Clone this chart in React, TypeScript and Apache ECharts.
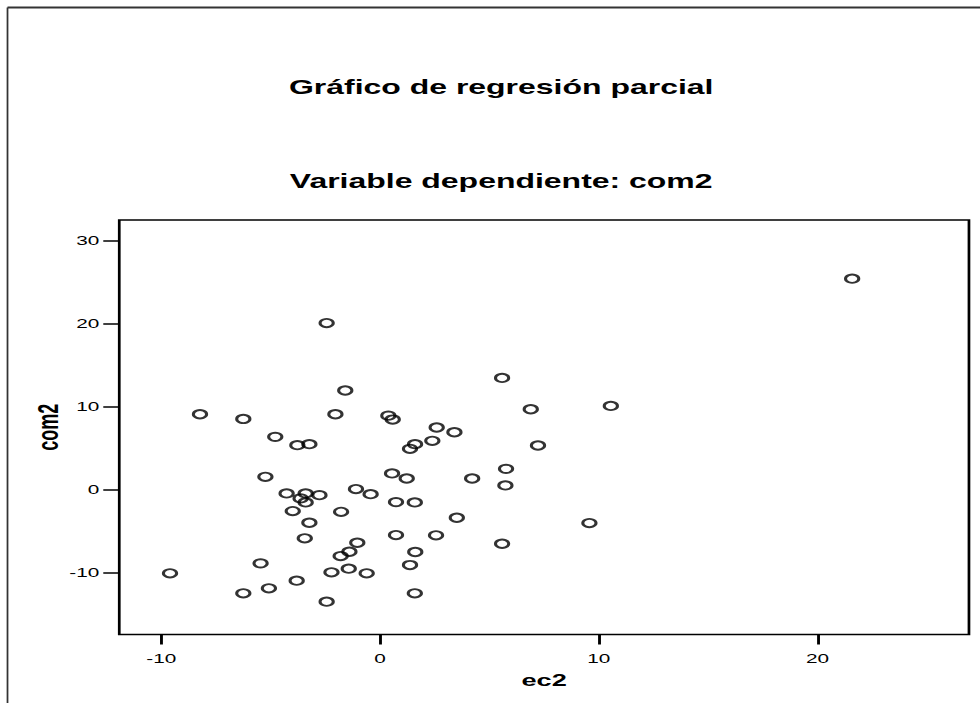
import React, { useEffect, useRef } from "react";
import * as echarts from "echarts";

// Partial regression plot data
const ec2 = [
  -8.23, -6.25, -4.79, -3.78, -3.23, -2.44, -1.59, -2.04, 0.38, 0.58,
  1.37, 1.6, 2.39, 2.59, 3.4, -5.24, 0.55, 1.22, 4.21, -4.27,
  -3.4, -3.63, -3.4, -2.77, -1.1, -0.43, 0.73, 1.59, -3.99, -1.78,
  -3.23, 3.51, -3.44, 0.73, 2.56, -1.04, -1.4, -1.8, 1.61, -5.46,
  1.37, -9.6, -2.22, -1.43, -0.61, -3.81, -5.08, -6.25, 1.59, -2.44,
  21.58, 5.58, 6.89, 10.55, 7.22, 5.76, 5.73, 9.57, 5.58,
];
const com2 = [
  9.07, 8.5, 6.34, 5.34, 5.46, 20.07, 11.93, 9.07, 8.9, 8.43,
  4.9, 5.46, 5.86, 7.47, 6.9, 1.52, 1.93, 1.32, 1.32, -0.48,
  -0.48, -1.08, -1.57, -0.69, 0.04, -0.57, -1.53, -1.57, -2.61, -2.7,
  -4.02, -3.42, -5.9, -5.51, -5.54, -6.43, -7.52, -8.04, -7.55, -8.92,
  -9.12, -10.12, -10.0, -9.56, -10.12, -11.01, -11.93, -12.53, -12.53, -13.54,
  25.42, 13.45, 9.67, 10.07, 5.3, 2.48, 0.48, -4.06, -6.55,
];
const xTicks = [-10, 0, 10, 20];
const yTicks = [-10, 0, 10, 20, 30];
const titleText = "Gráfico de regresión parcial";
const subtitleText = "Variable dependiente: com2";
const xName = "ec2";
const yName = "com2";

const W0 = 613;
const H = 703;
const S = 980 / W0;
const FONT = '"Liberation Sans", Arial, Helvetica, sans-serif';

export default function App() {
  const ref = useRef<HTMLDivElement>(null);
  useEffect(() => {
    if (!ref.current) return;
    const chart = echarts.init(ref.current, undefined, { renderer: "svg" });
    chart.setOption({
      animation: false,
      backgroundColor: "#fff",
      grid: {
        left: 74.6,
        right: 6.9,
        top: 220,
        bottom: 68.5,
        show: true,
        borderColor: "#000",
        borderWidth: 1.7,
        backgroundColor: "transparent",
      },
      xAxis: {
        type: "value",
        min: -11.92,
        max: 26.92,
        name: xName,
        nameLocation: "middle",
        nameGap: 37,
        nameMoveOverlap: false,
        nameTextStyle: { fontFamily: FONT, fontSize: 17, fontWeight: "bold", color: "#000" },
        axisLine: { show: false, onZero: false },
        axisTick: {
          show: true,
          length: 10,
          inside: false,
          customValues: xTicks,
          lineStyle: { color: "#000", width: 1.8 },
        },
        axisLabel: { customValues: xTicks, margin: 17, fontFamily: FONT, fontSize: 13, color: "#000" },
        splitLine: { show: false },
      },
      yAxis: {
        type: "value",
        min: -17.5,
        max: 32.5,
        name: yName,
        nameLocation: "middle",
        nameRotate: 90,
        nameGap: 36,
        nameMoveOverlap: false,
        nameTextStyle: { fontFamily: FONT, fontSize: 18, fontWeight: "bold", color: "#000" },
        axisLine: { show: false, onZero: false },
        axisTick: {
          show: true,
          length: 10,
          inside: false,
          customValues: yTicks,
          lineStyle: { color: "#000", width: 1.5 },
        },
        axisLabel: { customValues: yTicks, margin: 12.5, fontFamily: FONT, fontSize: 13, color: "#000" },
        splitLine: { show: false },
      },
      series: [
        {
          type: "scatter",
          data: ec2.map((x, i) => [x, com2[i]]),
          symbol: "circle",
          symbolSize: 8.3,
          silent: true,
          itemStyle: { color: "rgba(0,0,0,0)", borderColor: "#000", borderWidth: 1.9 },
        },
      ],
      graphic: [
        {
          type: "line",
          shape: { x1: 4.7, y1: 7.5, x2: W0, y2: 7.5 },
          style: { stroke: "#333", lineWidth: 2 },
        },
        {
          type: "line",
          shape: { x1: 4.7, y1: 7.5, x2: 4.7, y2: H },
          style: { stroke: "#333", lineWidth: 1.1 },
        },
        {
          type: "text",
          x: 313.5,
          y: 87,
          style: {
            text: titleText,
            align: "center",
            verticalAlign: "middle",
            textAlign: "center",
            textVerticalAlign: "middle",
            fontFamily: FONT,
            fontSize: 20,
            fontWeight: "bold",
            fill: "#000",
          },
        },
        {
          type: "text",
          x: 313.5,
          y: 181,
          style: {
            text: subtitleText,
            align: "center",
            verticalAlign: "middle",
            textAlign: "center",
            textVerticalAlign: "middle",
            fontFamily: FONT,
            fontSize: 20,
            fontWeight: "bold",
            fill: "#000",
          },
        },
      ],
    });
    return () => chart.dispose();
  }, []);
  return (
    <div
      ref={ref}
      style={{
        position: "fixed",
        left: 0,
        top: 0,
        width: W0,
        height: H,
        transform: `scaleX(${S})`,
        transformOrigin: "0 0",
      }}
    />
  );
}
